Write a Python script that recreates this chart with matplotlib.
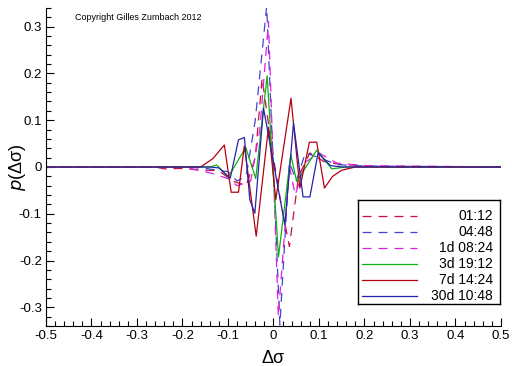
import matplotlib
matplotlib.use("Agg")
import matplotlib.pyplot as plt
from matplotlib.ticker import MultipleLocator

plt.rcParams['font.family'] = ['Liberation Sans', 'DejaVu Sans']
plt.rcParams['lines.scale_dashes'] = False

labels = ['01:12', '04:48', '1d 08:24', '3d 19:12', '7d 14:24', '30d 10:48']
colors = ['#c8103c', '#4444d4', '#e020e0', '#10b010', '#b40010', '#2424a8']
dashed = [True, True, True, False, False, False]

x_0112 = [-0.5, -0.26, -0.24, -0.2, -0.17, -0.12, -0.09, -0.06, -0.04, -0.025, -0.005,
          0.015, 0.035, 0.055, 0.08, 0.11, 0.15, 0.2, 0.25, 0.5]
y_0112 = [0, 0, -0.004, -0.003, -0.006, -0.008, -0.03, -0.04, 0.02, 0.19, 0.05,
          -0.07, -0.17, -0.02, 0.03, 0.012, 0.005, 0.003, 0, 0]

x_0448 = [-0.5, -0.2, -0.15, -0.1, -0.08, -0.06, -0.04, -0.015, 0.014, 0.035, 0.05,
          0.07, 0.1, 0.14, 0.2, 0.5]
y_0448 = [0, 0, -0.003, -0.01, -0.03, -0.02, 0.1, 0.343, -0.338, 0.01, -0.03,
          0.03, 0.02, 0.005, 0.002, 0]

x_1d = [-0.5, -0.2, -0.15, -0.13, -0.1, -0.08, -0.05, -0.03, -0.011, 0.0106, 0.035,
        0.048, 0.07, 0.1, 0.14, 0.2, 0.5]
y_1d = [0, 0, -0.01, -0.015, -0.025, -0.04, -0.03, 0.08, 0.311, -0.32, 0.0,
        -0.06, 0.01, 0.03, 0.008, 0.003, 0]

x_3d = [-0.5, -0.14, -0.125, -0.099, -0.061, -0.039, -0.014, 0.011, 0.038, 0.051,
        0.095, 0.128, 0.16, 0.5]
y_3d = [0, 0, 0.004, -0.021, 0.042, -0.025, 0.195, -0.192, 0.026, -0.031,
        0.036, -0.004, 0, 0]

x_7d = [-0.5, -0.16, -0.133, -0.108, -0.093, -0.077, -0.064, -0.038, -0.011, 0.005,
        0.0385, 0.058, 0.079, 0.095, 0.112, 0.13, 0.15, 0.18, 0.5]
y_7d = [0, 0, 0.018, 0.047, -0.054, -0.054, 0.045, -0.148, 0.085, -0.07,
        0.147, -0.045, 0.053, 0.053, -0.045, -0.02, -0.007, 0, 0]

x_30d = [-0.5, -0.14, -0.12, -0.095, -0.077, -0.064, -0.052, -0.041, -0.022, 0.025,
         0.044, 0.065, 0.08, 0.098, 0.125, 0.15, 0.5]
y_30d = [0, 0, -0.002, -0.024, 0.058, 0.063, -0.07, -0.099, 0.126, -0.124,
         0.094, -0.064, -0.064, 0.03, 0.003, 0, 0]

xs = [x_0112, x_0448, x_1d, x_3d, x_7d, x_30d]
ys = [y_0112, y_0448, y_1d, y_3d, y_7d, y_30d]

fig = plt.figure(figsize=(5.12, 3.66), dpi=100)
ax = fig.add_axes([0.0898, 0.1093, 0.8887, 0.869])

for x, y, c, d in zip(xs, ys, colors, dashed):
    if d:
        ax.plot(x, y, color=c, lw=0.9, dashes=(6.5, 5))
    else:
        ax.plot(x, y, color=c, lw=0.9)

ax.set_xlim(-0.5, 0.5)
ax.set_ylim(-0.34, 0.34)
ax.spines['top'].set_visible(False)
ax.spines['right'].set_visible(False)
ax.xaxis.set_major_locator(MultipleLocator(0.1))
ax.xaxis.set_minor_locator(MultipleLocator(0.02))
ax.yaxis.set_major_locator(MultipleLocator(0.1))
ax.yaxis.set_minor_locator(MultipleLocator(0.02))
ax.tick_params(which='major', direction='in', length=6, width=0.8, labelsize=9.5, pad=3)
ax.tick_params(which='minor', direction='in', length=3.5, width=0.8)
fmt = plt.FuncFormatter(lambda v, p: '0' if abs(v) < 1e-9 else f'{v:.1f}')
ax.xaxis.set_major_formatter(fmt)
ax.yaxis.set_major_formatter(fmt)

ax.set_xlabel('Δσ', fontsize=13)
ax.xaxis.set_label_coords(0.5, -0.075)
ax.set_ylabel('$p$(Δσ)', fontsize=13)
ax.yaxis.set_label_coords(-0.04, 0.5)

fig.text(75 / 512, 1 - 18 / 366, 'Copyright Gilles Zumbach 2012', fontsize=6.5, va='center')

# legend box drawn by hand so the labels can be right-aligned
lg = fig.add_axes([358 / 512, 62 / 366, 142 / 512, 104 / 366])
lg.set_xlim(0, 1)
lg.set_ylim(0, 1)
lg.set_xticks([])
lg.set_yticks([])
for s in lg.spines.values():
    s.set_linewidth(1.0)
for i, (lab, c, d) in enumerate(zip(labels, colors, dashed)):
    yy = 0.846 - i * 0.154
    if d:
        lg.plot([0.03, 0.415], [yy, yy], color=c, lw=0.9, dashes=(6.5, 5))
    else:
        lg.plot([0.03, 0.415], [yy, yy], color=c, lw=0.9)
    lg.text(0.95, yy, lab, ha='right', va='center', fontsize=10)

fig.savefig('out.png', dpi=100)
